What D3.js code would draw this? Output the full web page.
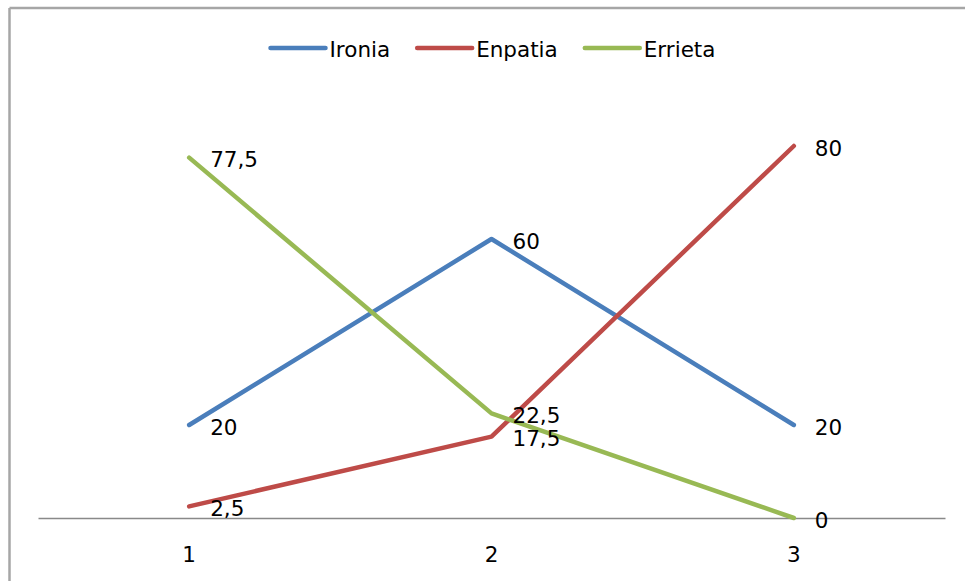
<!DOCTYPE html>
<html>
<head>
<meta charset="utf-8">
<script src="https://cdn.jsdelivr.net/npm/d3@7"></script>
<style>
  html, body { margin: 0; padding: 0; background: #fff; overflow: hidden; }
  svg { display: block; font-family: "DejaVu Sans", Verdana, sans-serif; }
</style>
</head>
<body>
<svg id="chart" width="965" height="581"></svg>
<script>
// Categories on the x axis
const categories = ["1", "2", "3"];

// Series names, values and colours
const seriesNames = ["Ironia", "Enpatia", "Errieta"];
const ironia  = [20, 60, 20];
const enpatia = [2.5, 17.5, 80];
const errieta = [77.5, 22.5, 0];
const seriesColors = ["#4a7ebb", "#be4b48", "#98b954"];

const seriesValues = [ironia, enpatia, errieta];
const series = seriesNames.map((name, i) => ({
  name, color: seriesColors[i],
  values: seriesValues[i].map((v, j) => ({ cat: categories[j], v }))
}));

const fmt = v => String(v).replace(".", ",");

const svg = d3.select("#chart");
const W = 965, H = 581;

// Outer chart frame: only the top and left edges fall inside the view
const frame = svg.append("g").attr("stroke", "#a6a6a6").attr("stroke-width", 2.5);
frame.append("line").attr("x1", 9.5).attr("x2", W).attr("y1", 8).attr("y2", 8);
frame.append("line").attr("x1", 9.5).attr("x2", 9.5).attr("y1", 8).attr("y2", H);

const plot = { left: 38, right: 945, top: 99.5, bottom: 518 };

const x = d3.scaleBand().domain(categories).range([plot.left, plot.right]);
const y = d3.scaleLinear().domain([0, 90]).range([plot.bottom, plot.top]);
const cx = c => x(c) + x.bandwidth() / 2;

// Category axis
const axis = svg.append("g")
  .attr("transform", `translate(0,${plot.bottom})`)
  .call(d3.axisBottom(x).tickSize(0).tickSizeOuter(0));
axis.select(".domain").attr("stroke", "#898989").attr("stroke-width", 1.6);
axis.selectAll(".tick text")
  .attr("y", 36).attr("dy", null)
  .attr("dominant-baseline", "central")
  .attr("font-size", 21.5).attr("font-family", "DejaVu Sans, Verdana, sans-serif")
  .attr("fill", "#000");

// Series lines
const line = d3.line().x(d => cx(d.cat)).y(d => y(d.v));
svg.append("g").selectAll("path")
  .data(series).join("path")
  .attr("d", d => line(d.values))
  .attr("fill", "none")
  .attr("stroke", d => d.color)
  .attr("stroke-width", 4.5)
  .attr("stroke-linejoin", "round")
  .attr("stroke-linecap", "round");

// Value labels to the right of each point
svg.append("g").selectAll("g")
  .data(series).join("g")
  .selectAll("text")
  .data(d => d.values).join("text")
  .attr("x", d => cx(d.cat) + 21)
  .attr("y", d => y(d.v) + 2)
  .attr("dominant-baseline", "central")
  .attr("font-size", 21.5)
  .attr("fill", "#000")
  .text(d => fmt(d.v));

// Legend
const legend = svg.append("g");
let lx = 0;
series.forEach((s, i) => {
  const g = legend.append("g").attr("transform", `translate(${lx},0)`);
  g.append("line")
    .attr("x1", 0).attr("x2", 55).attr("y1", 0).attr("y2", 0)
    .attr("stroke", s.color).attr("stroke-width", 4.5)
    .attr("stroke-linecap", "round");
  const t = g.append("text")
    .attr("x", 59).attr("y", 1)
    .attr("dominant-baseline", "central")
    .attr("font-size", 21.5)
    .attr("fill", "#000")
    .text(s.name);
  lx += 59 + t.node().getComputedTextLength() + 27;
});
const legendWidth = lx - 27;
legend.attr("transform", `translate(${493 - legendWidth / 2},48)`);
</script>
</body>
</html>
